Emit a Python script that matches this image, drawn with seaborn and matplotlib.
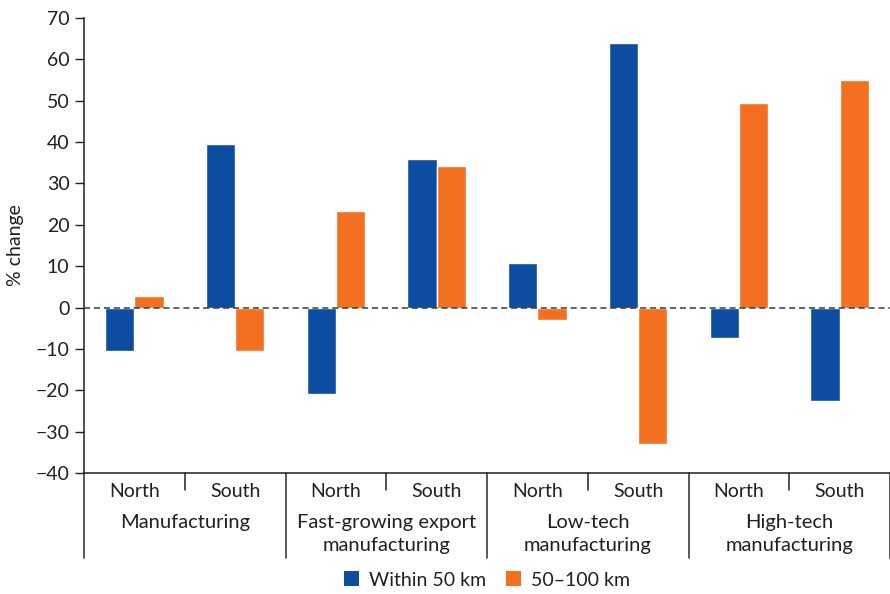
import matplotlib
matplotlib.use("Agg")
import matplotlib.pyplot as plt
import matplotlib.transforms as mtransforms
from matplotlib.patches import Patch
import seaborn as sns
import pandas as pd

#
# 01. Dados
#
grupos = ["Manufacturing", "Fast-growing export\nmanufacturing",
          "Low-tech\nmanufacturing", "High-tech\nmanufacturing"]
regioes = ["North", "South"]
series = ["Within 50 km", "50\u2013100 km"]
dentro50 = [-10.5, 39.5, -21.0, 36.0, 10.8, 64.0, -7.3, -22.5]
entre50_100 = [2.8, -10.5, 23.3, 34.2, -3.0, -33.0, 49.5, 55.0]
cores = ["#0C4DA2", "#F37021"]

chaves = [f"{g} {r}" for g in grupos for r in regioes]
df = pd.DataFrame({
    "chave": chaves * 2,
    "valor": dentro50 + entre50_100,
    "serie": [series[0]] * 8 + [series[1]] * 8,
})

#
# 02. Tema
#
sns.set_theme(style="white")
plt.rcParams["font.family"] = ["Lato", "DejaVu Sans"]
cor_texto = "#231F20"

fig = plt.figure(figsize=(8.9, 5.94), dpi=100)
ax = fig.add_axes([84 / 890, 1 - 473 / 594, 806 / 890, 455 / 594])

#
# 03. Barras
#
sns.barplot(data=df, x="chave", y="valor", hue="serie", order=chaves,
            hue_order=series, palette=cores, width=0.58, gap=0,
            saturation=1, legend=False, ax=ax)

ax.axhline(0, color="#3a3a3a", lw=1.1, ls=(0, (4, 2.5)), zorder=5)

#
# 04. Eixos
#
ax.set_xlim(-0.5, 7.5)
ax.set_ylim(-40, 70)
ax.set_yticks(range(-40, 71, 10))
ax.set_yticklabels([str(v).replace("-", "\u2212") for v in range(-40, 71, 10)])
ax.set_xticks(range(8))
ax.set_xticklabels(regioes * 4)
ax.set_xlabel("")
ax.set_ylabel("% change", fontsize=14, color=cor_texto, labelpad=8)

ax.tick_params(axis="y", length=6.5, width=1, color=cor_texto, pad=4,
               labelsize=14, labelcolor=cor_texto, left=True)
ax.tick_params(axis="x", length=0, pad=7, labelsize=14, labelcolor=cor_texto)

for lado in ["top", "right"]:
    ax.spines[lado].set_visible(False)
for lado in ["left", "bottom"]:
    ax.spines[lado].set_color(cor_texto)
    ax.spines[lado].set_linewidth(1.1)

#
# 05. Divisores e rótulos dos grupos
#
trans = mtransforms.blended_transform_factory(ax.transData, ax.transAxes)
for x in [0.5, 2.5, 4.5, 6.5]:
    ax.plot([x, x], [0, -17 / 455], transform=trans, clip_on=False,
            color=cor_texto, lw=1.1)
for x in [-0.5, 1.5, 3.5, 5.5, 7.5]:
    ax.plot([x, x], [0, -85 / 455], transform=trans, clip_on=False,
            color="#4a4a4a", lw=1.3)
for i, g in enumerate(grupos):
    ax.text(2 * i + 0.5, -41 / 455, g, transform=trans, ha="center", va="top",
            fontsize=14.5, color=cor_texto, linespacing=1.45)

#
# 06. Legenda
#
handles = [Patch(facecolor=c, edgecolor="none", label=s) for c, s in zip(cores, series)]
fig.legend(handles=handles, loc="center", bbox_to_anchor=(487 / 890, 1 - 580 / 594),
           ncol=2, frameon=False, fontsize=14, handlelength=0.8, handleheight=0.8,
           handletextpad=0.5, columnspacing=1.0, labelcolor=cor_texto)

plt.savefig("out.png", dpi=100)
